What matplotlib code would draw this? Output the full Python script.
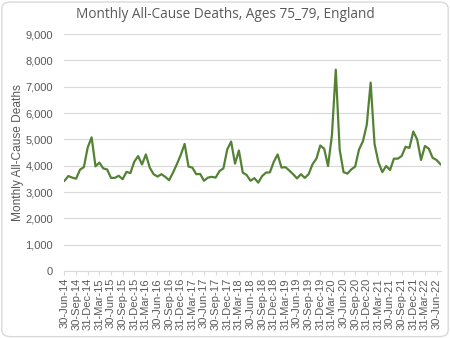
import matplotlib
matplotlib.use("Agg")
import matplotlib.pyplot as plt
from matplotlib.patches import FancyBboxPatch

plt.rcParams['font.family'] = ['Liberation Sans', 'DejaVu Sans']

# Monthly deaths, Jun-2014 .. Jul-2022
deaths = [
    3430, 3610, 3550, 3510, 3850, 3950, 4700,            # Jun-14 .. Dec-14
    5080, 3980, 4120, 3900, 3860, 3540, 3540, 3620, 3490, 3770, 3720, 4150,  # 2015
    4370, 4050, 4430, 3930, 3680, 3590, 3680, 3580, 3450, 3740, 4060, 4410,  # 2016
    4830, 3970, 3930, 3680, 3690, 3430, 3550, 3580, 3550, 3800, 3900, 4620,  # 2017
    4920, 4080, 4580, 3740, 3650, 3430, 3530, 3360, 3610, 3740, 3750, 4150,  # 2018
    4430, 3930, 3950, 3820, 3680, 3520, 3680, 3540, 3680, 4060, 4270, 4770,  # 2019
    4650, 3990, 5150, 7650, 4620, 3760, 3700, 3860, 3970, 4620, 4930, 5560,  # 2020
    7160, 4830, 4140, 3760, 3990, 3840, 4270, 4270, 4370, 4720, 4680, 5300,  # 2021
    5000, 4220, 4750, 4650, 4300, 4220, 4060,                                # 2022
]

tick_labels = [
    "30-Jun-14", "30-Sep-14", "31-Dec-14",
    "31-Mar-15", "30-Jun-15", "30-Sep-15", "31-Dec-15",
    "31-Mar-16", "30-Jun-16", "30-Sep-16", "31-Dec-16",
    "31-Mar-17", "30-Jun-17", "30-Sep-17", "31-Dec-17",
    "31-Mar-18", "30-Jun-18", "30-Sep-18", "31-Dec-18",
    "31-Mar-19", "30-Jun-19", "30-Sep-19", "31-Dec-19",
    "31-Mar-20", "30-Jun-20", "30-Sep-20", "31-Dec-20",
    "31-Mar-21", "30-Jun-21", "30-Sep-21", "31-Dec-21",
    "31-Mar-22", "30-Jun-22",
]
tick_step = 3

title = "Monthly All-Cause Deaths, Ages 75_79, England"
ylabel = "Monthly All-Cause Deaths"

grey_text = "#595959"
line_color = "#548235"
grid_color = "#d9d9d9"

fig = plt.figure(figsize=(4.5, 3.38), dpi=100)
fig.patch.set_facecolor("white")

border = FancyBboxPatch((0.004, 0.004), 0.992, 0.990,
                        boxstyle="round,pad=0,rounding_size=0.02",
                        transform=fig.transFigure, facecolor="white",
                        edgecolor="#d9d9d9", linewidth=1.0, zorder=-10)
fig.patches.append(border)

ax = fig.add_axes([0.142, 0.198, 0.838, 0.701])
ax.set_facecolor("none")

x = list(range(len(deaths)))
ax.plot(x, deaths, color=line_color, linewidth=1.6, solid_joinstyle="round", zorder=3)

ax.set_ylim(0, 9000)
ax.set_yticks(range(0, 9001, 1000))
ax.set_yticklabels([f"{v:,}" for v in range(0, 9001, 1000)], fontsize=8, color=grey_text)
ax.yaxis.grid(True, color=grid_color, linewidth=0.8)
ax.set_axisbelow(True)

ax.set_xlim(-0.15, len(deaths) - 1 + 0.15)
ax.set_xticks([i * tick_step for i in range(len(tick_labels))])
ax.set_xticklabels(tick_labels, rotation=90, fontsize=8, color=grey_text)

for s in ["top", "right", "left"]:
    ax.spines[s].set_visible(False)
ax.spines["bottom"].set_color(grid_color)
ax.spines["bottom"].set_linewidth(0.8)
ax.tick_params(axis="y", length=0, pad=8)
ax.tick_params(axis="x", length=3, color=grid_color, pad=2)

ax.set_ylabel(ylabel, fontsize=8.6, color=grey_text)
ax.yaxis.set_label_coords(-0.107, 0.5)
fig.text(0.5, 0.958, title, ha="center", va="center", fontsize=9.8,
         color=grey_text, family=["Open Sans", "DejaVu Sans"])

fig.savefig("out.png", dpi=100)
